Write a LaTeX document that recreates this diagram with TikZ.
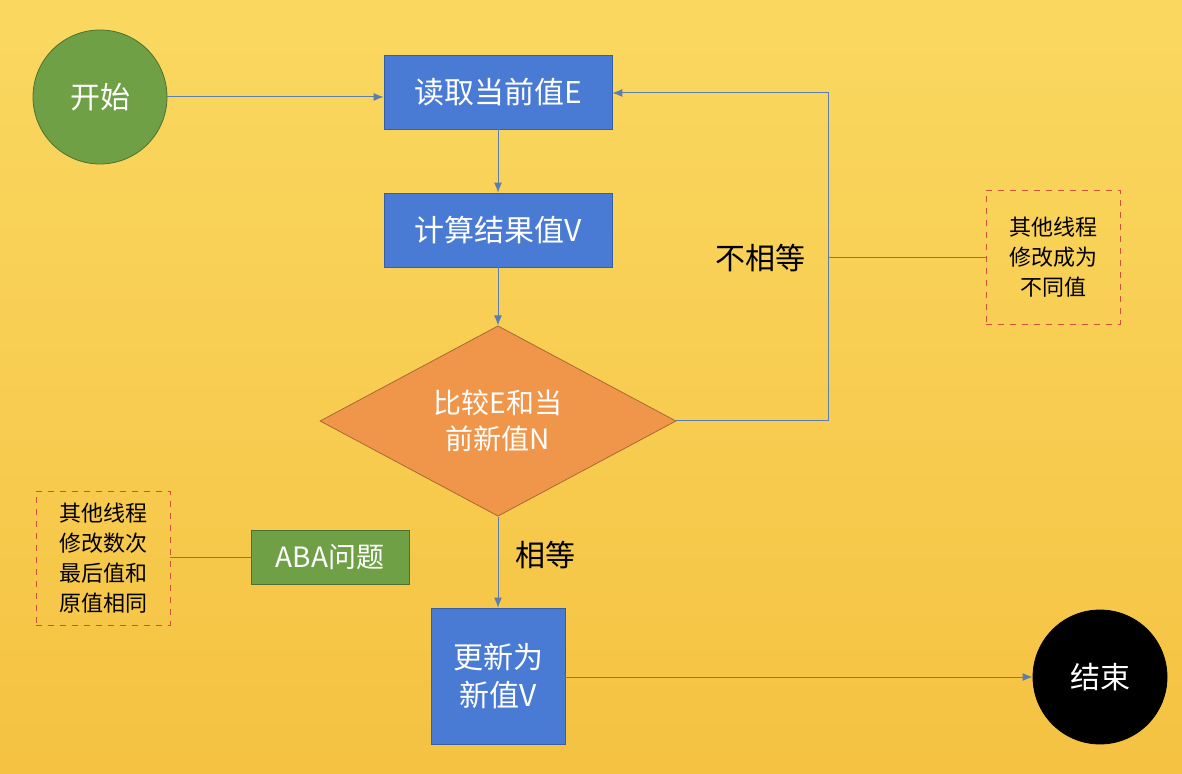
\documentclass[tikz,border=0pt]{standalone}
\usepackage{fontspec}
\setmainfont{Noto Sans CJK SC}
\usetikzlibrary{shapes.geometric,arrows.meta}
\definecolor{boxblue}{HTML}{4A7BD4}
\definecolor{boxedge}{HTML}{3560A8}
\definecolor{startgreen}{HTML}{6FA046}
\definecolor{decorange}{HTML}{F0964A}
\definecolor{flowline}{HTML}{5B7DB0}
\definecolor{notered}{HTML}{D0503A}
\tikzset{
  procbox/.style={draw=boxedge, fill=boxblue, text=white, font=\fontsize{15}{19}\selectfont, align=center},
  notebox/.style={draw=notered, dashed, align=center, font=\fontsize{11}{15}\selectfont, inner sep=0pt},
  flow/.style={draw=flowline, line width=0.5pt, -{Latex[length=5pt,width=4pt]}},
  plain/.style={draw=flowline, line width=0.5pt}
}
\begin{document}
\begin{tikzpicture}[x=0.5pt,y=-0.5pt]
  %%%%% BACKGROUND %%%%%
  \shade[top color={rgb,255:red,250;green,216;blue,96}, bottom color={rgb,255:red,245;green,194;blue,66}]
    (0,0) rectangle (1182,774);
  \useasboundingbox (0,0) rectangle (1182,774);

  %%%%% NODES %%%%%
  \node[circle, draw=startgreen!70!black, fill=startgreen, text=white, minimum size=67pt, font=\fontsize{15}{19}\selectfont] (start) at (100,97) {开始};
  \node[procbox, minimum width=114pt, minimum height=37pt] (read) at (498,92) {读取当前值E};
  \node[procbox, minimum width=114pt, minimum height=37pt] (calc) at (498,230) {计算结果值V};
  \node[diamond, draw=decorange!70!black, fill=decorange, text=white, minimum width=178pt, minimum height=93pt, inner sep=0pt, align=center, font=\fontsize{14}{18}\selectfont] (cmp) at (498,421) {比较E和当\\前新值N};
  \node[procbox, minimum width=67pt, minimum height=68pt] (upd) at (498,676) {更新为\\新值V};
  \node[circle, draw=black, fill=black, text=white, minimum size=67pt, font=\fontsize{15}{19}\selectfont] (end) at (1100,677) {结束};
  \node[draw=startgreen!70!black, fill=startgreen, text=white, minimum width=79pt, minimum height=27pt, font=\fontsize{14}{18}\selectfont] (aba) at (330,557) {ABA问题};
  \node[notebox, minimum width=67pt, minimum height=67pt] (noteR) at (1053,257) {其他线程\\修改成为\\不同值};
  \node[notebox, minimum width=67pt, minimum height=67pt] (noteL) at (103,558) {其他线程\\修改数次\\最后值和\\原值相同};

  %%%%% LABELS %%%%%
  \node[font=\fontsize{15}{19}\selectfont] (neq) at (760,258) {不相等};
  \node[font=\fontsize{15}{19}\selectfont] (eq) at (545,555) {相等};

  %%%%% CONNECTORS %%%%%
  \coordinate (turnA) at (828,421);
  \coordinate (turnB) at (828,93);
  \coordinate (turnC) at (828,258);
  \draw[flow] (start) -- (read.west |- start);
  \draw[flow] (read) -- (calc);
  \draw[flow] (calc) -- (cmp.north);
  \draw[flow] (cmp.east) -- (turnA) -- (turnB) -- (read.east |- turnB);
  \draw[plain] (turnC) -- (noteR.west |- turnC);
  \draw[flow] (cmp.south) -- (upd);
  \draw[flow] (upd.east |- end) -- (end);
  \draw[plain] (aba.west) -- (noteL.east |- aba.west);
\end{tikzpicture}
\end{document}
